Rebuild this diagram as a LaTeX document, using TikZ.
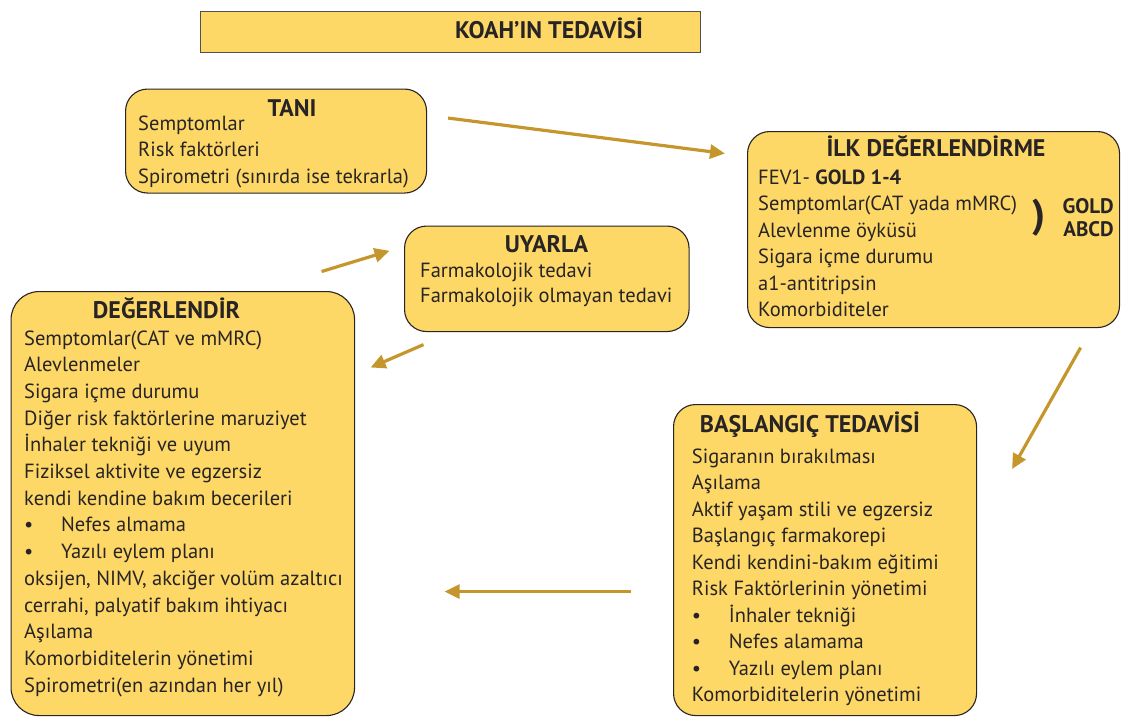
\documentclass[tikz,border=0pt]{standalone}
\usepackage{fontspec}
\setmainfont{PT Sans}
\usetikzlibrary{arrows.meta}

\definecolor{kutusari}{RGB}{253,216,102}
\definecolor{oksari}{RGB}{196,150,44}
\definecolor{kenar}{RGB}{40,36,37}

% madde isareti + girinti
\newcommand{\madde}[1]{\makebox[37pt][l]{\textbullet}#1}

\begin{document}
\begin{tikzpicture}
    [%%%%%%%%%%%%%%%%%%%%%%%%%%%%%%
        x=1pt,y=-1pt,
        kutu/.style={rectangle,rounded corners=22pt,draw=kenar,line width=1.1pt,fill=kutusari,anchor=north west,inner sep=0pt},
        baslik/.style={font=\fontsize{24}{28}\selectfont\bfseries,text=kenar,anchor=base,inner sep=0pt},
        satir/.style={font=\fontsize{20.5}{26}\selectfont,text=kenar,anchor=base west,inner sep=0pt},
        ok/.style={draw=oksari,line width=3.2pt,-{Triangle[length=15pt,width=14pt]}}
    ]%%%%%%%%%%%%%%%%%%%%%%%%%%%%%%

\useasboundingbox (0,0) rectangle (1121,716);

% ust baslik
\node[rectangle,draw=kenar!80,line width=1.3pt,fill=kutusari,anchor=north west,
      minimum width=500pt,minimum height=41pt] (ust) at (200,10.5) {};
\node[baslik] (ustyazi) at (549,38.5) {KOAH’IN TEDAVİSİ};

% kutular
\node[kutu,minimum width=301pt,minimum height=104pt] (tani) at (125,88.5) {};
\node[kutu,minimum width=372pt,minimum height=196pt] (ilk) at (747,131) {};
\node[kutu,minimum width=284.5pt,minimum height=105.5pt] (uyarla) at (404,225.5) {};
\node[kutu,rounded corners=28pt,minimum width=343.5pt,minimum height=424pt] (degerlendir) at (10.5,291) {};
\node[kutu,minimum width=303pt,minimum height=311pt] (baslangic) at (673,404) {};

% TANI
\node[baslik] (tani-b) at (292,116.7) {TANI};
\foreach \t [count=\i from 0] in {Semptomlar, Risk faktörleri, {Spirometri (sınırda ise tekrarla)}}
    \node[satir] (tani-\i) at (138,130+26.5*\i) {\t};

% ILK DEGERLENDIRME
\node[baslik] (ilk-b) at (936,156.7) {İLK DEĞERLENDİRME};
\foreach \t [count=\i from 0] in {FEV1- \textbf{GOLD 1-4}, {Semptomlar(CAT yada mMRC)}, Alevlenme öyküsü,
        Sigara içme durumu, a1-antitripsin, Komorbiditeler}
    \node[satir] (ilk-\i) at (758,184.3+26.5*\i) {\t};
\node[font=\fontsize{40}{40}\selectfont\bfseries,text=kenar,inner sep=0pt] (parantez) at (1039,218) {)};
\node[font=\fontsize{21}{23.5}\selectfont\bfseries,text=kenar,inner sep=0pt,align=right,anchor=east]
    (goldabcd) at (1114,217.7) {GOLD\\ABCD};

% UYARLA
\node[baslik] (uyarla-b) at (546.5,252.7) {UYARLA};
\foreach \t [count=\i from 0] in {Farmakolojik tedavi, Farmakolojik olmayan tedavi}
    \node[satir] (uyarla-\i) at (420,277+25.5*\i) {\t};

% DEGERLENDIR
\node[baslik] (degerlendir-b) at (166.5,318.3) {DEĞERLENDİR};
\foreach \t [count=\i from 0] in {{Semptomlar(CAT ve mMRC)}, Alevlenmeler, Sigara içme durumu,
        Diğer risk faktörlerine maruziyet, İnhaler tekniği ve uyum, Fiziksel aktivite ve egzersiz,
        kendi kendine bakım becerileri, \madde{Nefes almama}, \madde{Yazılı eylem planı},
        {oksijen, NIMV, akciğer volüm azaltıcı}, {cerrahi, palyatif bakım ihtiyacı},
        Aşılama, Komorbiditelerin yönetimi, {Spirometri(en azından her yıl)}}
    \node[satir] (degerlendir-\i) at (24,345+26.7*\i) {\t};

% BASLANGIC TEDAVISI
\node[baslik] (baslangic-b) at (810,432.3) {BAŞLANGIÇ TEDAVİSİ};
\foreach \t [count=\i from 0] in {Sigaranın bırakılması, Aşılama, Aktif yaşam stili ve egzersiz,
        Başlangıç farmakorepi, Kendi kendini-bakım eğitimi, Risk Faktörlerinin yönetimi,
        \madde{İnhaler tekniği}, \madde{Nefes alamama}, \madde{Yazılı eylem planı},
        Komorbiditelerin yönetimi}
    \node[satir] (baslangic-\i) at (691.7,463.3+26.5*\i) {\t};

% oklar
\draw[ok] ([xshift=21pt,yshift=23pt]tani.east) -- ([xshift=-22pt,yshift=-22.5pt]ilk.north west);
\draw[ok] ([xshift=-39.5pt,yshift=-19.5pt]ilk.south east) -- ([xshift=35pt,yshift=-65pt]baslangic.north east);
\draw[ok] ([xshift=-42pt,yshift=-31.5pt]baslangic.west) -- ([xshift=89.5pt,yshift=-88pt]degerlendir.east);
\draw[ok] ([xshift=-33.5pt,yshift=19.5pt]degerlendir.north east) -- ([xshift=-14.5pt,yshift=28pt]uyarla.west);
\draw[ok] ([xshift=19.5pt,yshift=-12.5pt]uyarla.south west) -- ([xshift=15.5pt,yshift=-76.5pt]degerlendir.north east);

\end{tikzpicture}
\end{document}
